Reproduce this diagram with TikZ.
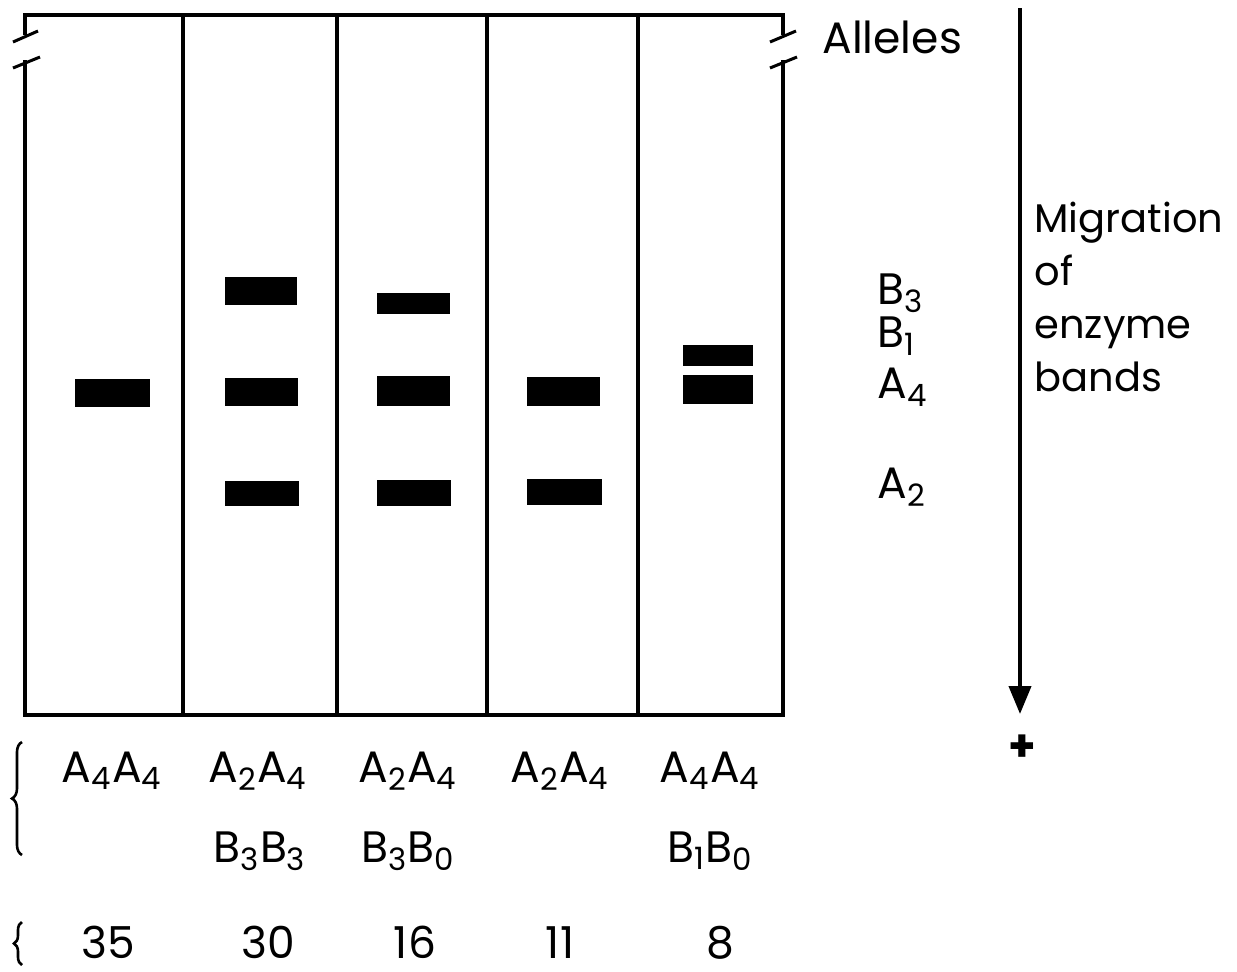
\documentclass[tikz,border=0pt]{standalone}
\usepackage{fontspec}
\setmainfont{Poppins}
\usetikzlibrary{arrows.meta, decorations.pathreplacing}
\newcommand{\lo}[1]{\textsubscript{#1}}
\begin{document}
\begin{tikzpicture}[
    x=0.5pt, y=-0.5pt,
    every node/.style={font=\fontsize{22}{26}\selectfont, inner sep=0pt},
    gel/.style={line width=2pt, line cap=rect},
    band/.style={fill=black},
    geno/.style={anchor=base},
]
\useasboundingbox (0,0) rectangle (1237,971);

% Gel outline with break marks at the top corners
\draw[gel] (25,33) -- (25,15) -- (783,15) -- (783,33);
\draw[gel] (25,62) -- (25,715) -- (783,715) -- (783,62);
\draw[line width=1.5pt] (13,42) -- (38,31);
\draw[line width=1.5pt] (13,68) -- (40,57);
\draw[line width=1.5pt] (770,42) -- (796,31);
\draw[line width=1.5pt] (770,68) -- (797,57);

% Lane dividers
\foreach \lx in {183,337,487,638}
  \draw[gel] (\lx,15) -- (\lx,715);

% Bands, lane by lane
\fill[band] (75,379) rectangle (150,407);   % A4A4
\fill[band] (225,277) rectangle (297,305);  % A2A4 B3B3
\fill[band] (225,378) rectangle (298,406);
\fill[band] (225,481) rectangle (299,506);
\fill[band] (377,293) rectangle (450,314);  % A2A4 B3B0
\fill[band] (377,376) rectangle (450,406);
\fill[band] (377,480) rectangle (451,506);
\fill[band] (527,377) rectangle (600,406);  % A2A4
\fill[band] (527,479) rectangle (602,505);
\fill[band] (683,345) rectangle (753,366);  % A4A4 B1B0
\fill[band] (683,375) rectangle (753,404);

% Allele labels beside the gel
\node[anchor=west] (alleles) at (822,37) {Alleles};
\node[anchor=west] (lb3) at (877,293) {B\lo{3}};
\node[anchor=west] (lb1) at (877,336) {B\lo{1}};
\node[anchor=west] (la4) at (877,387) {A\lo{4}};
\node[anchor=west] (la2) at (877,487) {A\lo{2}};

% Migration arrow
\coordinate (mtop) at (1020,8);
\coordinate (mbot) at (1020,714);
\draw[line width=2pt, -{Triangle[length=14pt,width=11pt]}] (mtop) -- (mbot);
\node (plus) at (1022,748) {\textbf{+}};
\node[anchor=north west, align=left, font=\fontsize{20}{26.5}\selectfont] (mig) at (1034,202)
  {Migration\\of\\enzyme\\bands};

% Genotypes under each lane
\node[geno] (g1) at (112,782) {A\lo{4}A\lo{4}};
\node[geno] (g2) at (258,782) {A\lo{2}A\lo{4}};
\node[geno] (g3) at (408,782) {A\lo{2}A\lo{4}};
\node[geno] (g4) at (560,782) {A\lo{2}A\lo{4}};
\node[geno] (g5) at (710,782) {A\lo{4}A\lo{4}};
\node[geno] (h2) at (260,862) {B\lo{3}B\lo{3}};
\node[geno] (h3) at (408,862) {B\lo{3}B\lo{0}};
\node[geno] (h5) at (710,862) {B\lo{1}B\lo{0}};

% Counts
\node[geno] (n1) at (108,958) {35};
\node[geno] (n2) at (268,958) {30};
\node[geno] (n3) at (415,958) {16};
\node[geno] (n4) at (560,958) {11};
\node[geno] (n5) at (720,958) {8};

% Braces on the left
\draw[line width=1.3pt, decorate, decoration={brace, amplitude=5pt}]
  (22,855) -- (22,742);
\draw[line width=1.3pt, decorate, decoration={brace, amplitude=4pt}]
  (22,965) -- (22,922);

\end{tikzpicture}
\end{document}
